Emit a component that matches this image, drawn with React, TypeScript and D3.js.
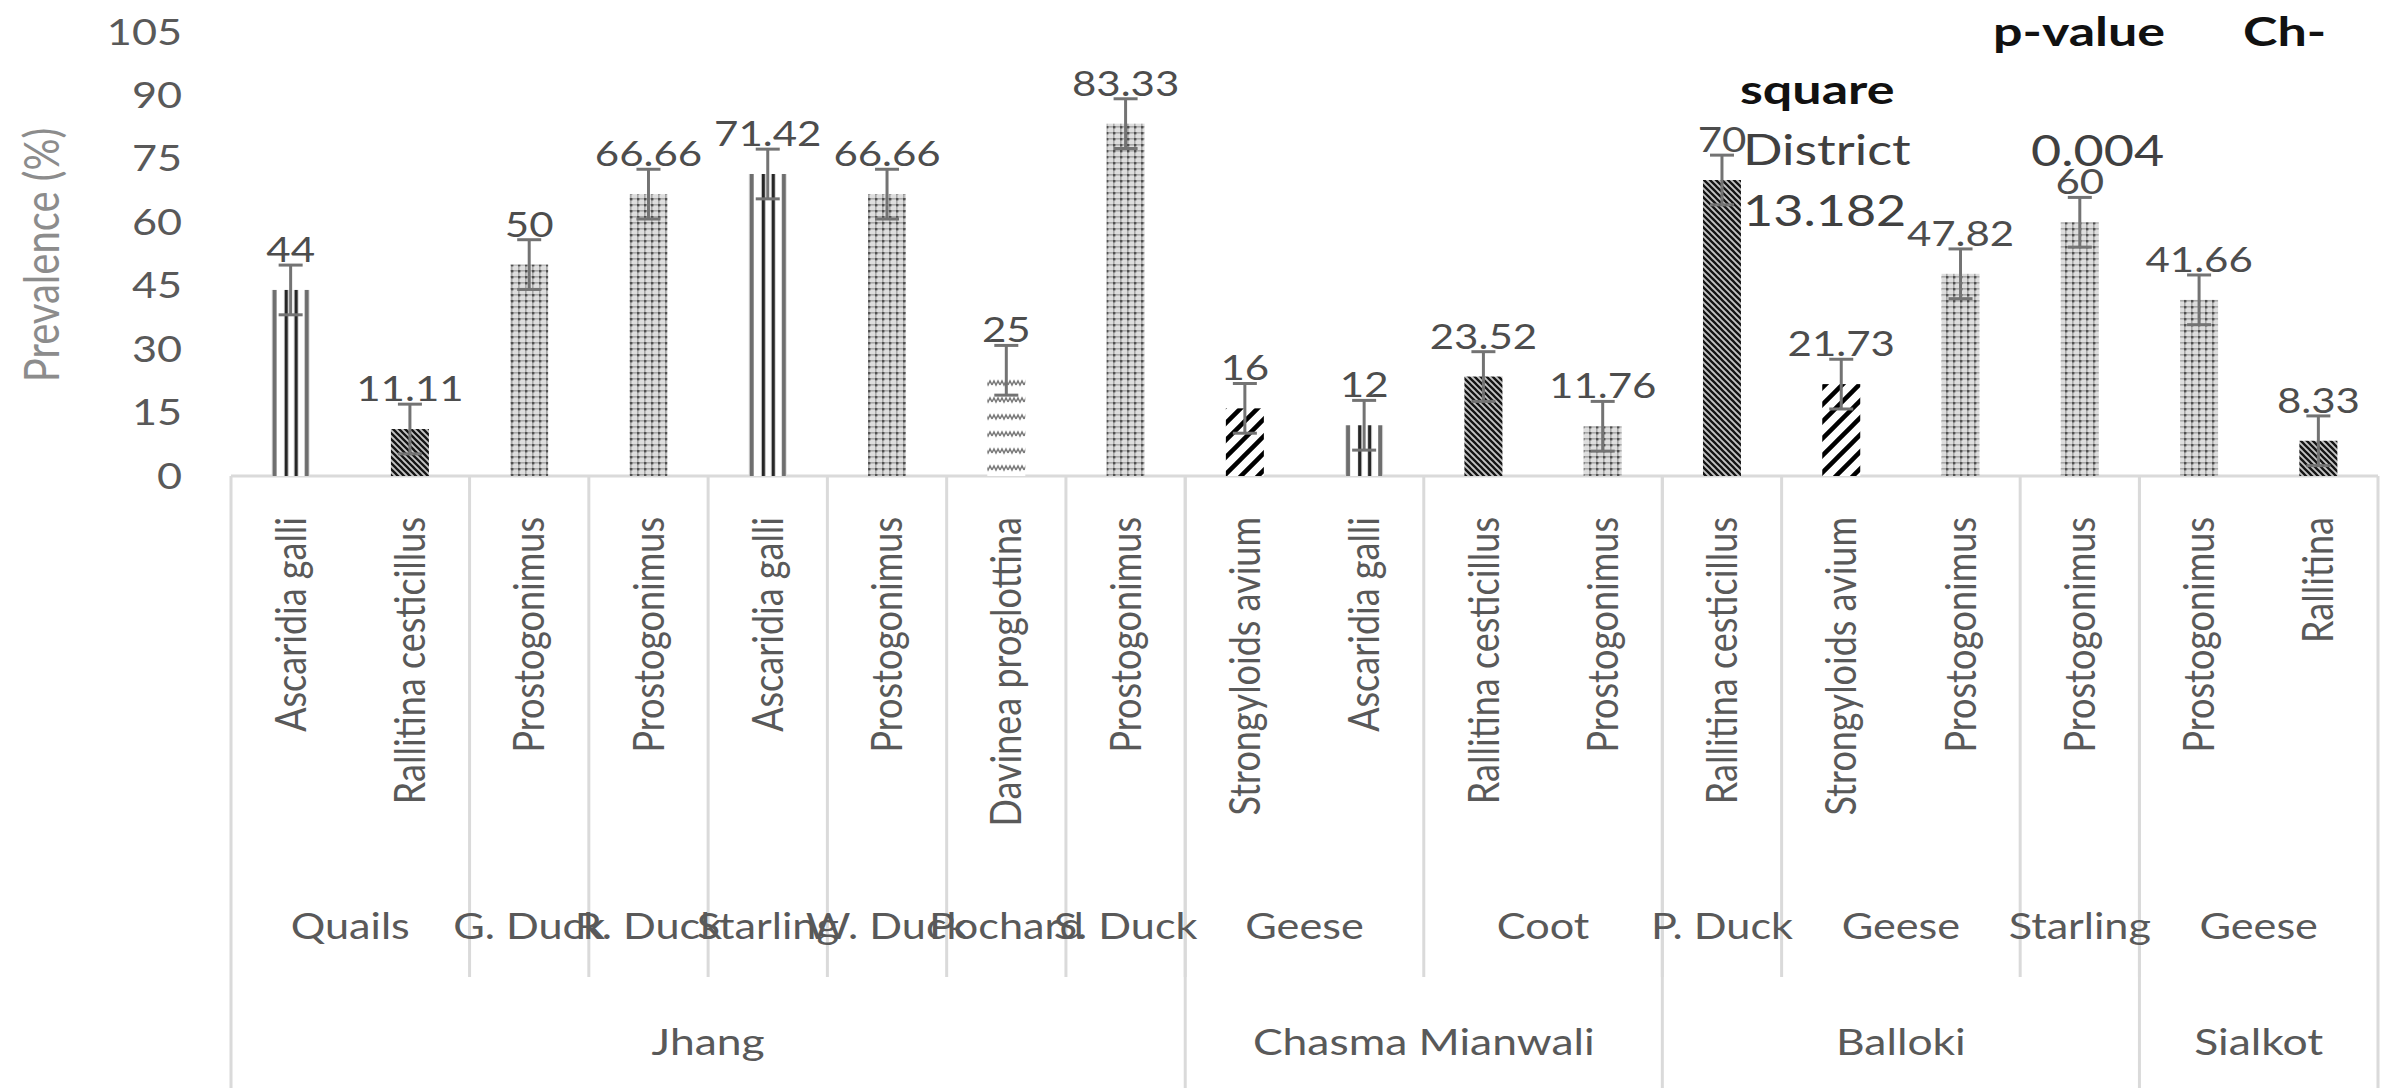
import React from "react";
import * as d3 from "d3";

// Prevalence of helminth species by host bird and district
const districts = [
  "Jhang", "Jhang", "Jhang", "Jhang", "Jhang", "Jhang", "Jhang", "Jhang",
  "Chasma Mianwali", "Chasma Mianwali", "Chasma Mianwali", "Chasma Mianwali",
  "Balloki", "Balloki", "Balloki", "Balloki",
  "Sialkot", "Sialkot",
];
const hosts = [
  "Quails", "Quails", "G. Duck", "R. Duck", "Starling", "W. Duck", "Pochard", "S. Duck",
  "Geese", "Geese", "Coot", "Coot",
  "P. Duck", "Geese", "Geese", "Starling",
  "Geese", "Geese",
];
const species = [
  "Ascaridia galli", "Rallitina cesticillus", "Prostogonimus", "Prostogonimus",
  "Ascaridia galli", "Prostogonimus", "Davinea proglottina", "Prostogonimus",
  "Strongyloids avium", "Ascaridia galli", "Rallitina cesticillus", "Prostogonimus",
  "Rallitina cesticillus", "Strongyloids avium", "Prostogonimus", "Prostogonimus",
  "Prostogonimus", "Rallitina",
];
const prevalence = [
  44, 11.11, 50, 66.66, 71.42, 66.66, 25, 83.33,
  16, 12, 23.52, 11.76,
  70, 21.73, 47.82, 60,
  41.66, 8.33,
];
// standard error bars (same for every bar)
const standardError = [
  5.88, 5.88, 5.88, 5.88, 5.88, 5.88, 5.88, 5.88, 5.88,
  5.88, 5.88, 5.88, 5.88, 5.88, 5.88, 5.88, 5.88, 5.88,
];
const yTicks = [0, 15, 30, 45, 60, 75, 90, 105];

// fill pattern per parasite
const patternOf: Record<string, string> = {
  "Ascaridia galli": "vlines",
  "Rallitina cesticillus": "darkDiag",
  Rallitina: "darkDiag",
  Prostogonimus: "dotGrid",
  "Davinea proglottina": "wave",
  "Strongyloids avium": "wideDiag",
};

const FONT = "Lato, 'Open Sans', sans-serif";
const W = 2392;
const H = 1088;
const LEFT = 231;
const RIGHT = 2378;
const AXIS_Y = 476;
const TOP_Y = 32;
const SPECIES_END_Y = 517;
const HOST_Y = 926;
const HOST_LINE_END = 977;
const DISTRICT_Y = 1042;
const SX = 1.2;

function runs(keys: string[]) {
  const out: { key: string; start: number; end: number }[] = [];
  keys.forEach((k, i) => {
    const last = out[out.length - 1];
    if (last && last.key === k) last.end = i;
    else out.push({ key: k, start: i, end: i });
  });
  return out;
}

export default function App() {
  const idx = prevalence.map((_, i) => i);
  const x = d3.scaleBand<number>().domain(idx).range([LEFT, RIGHT]).paddingInner(0).paddingOuter(0);
  const y = d3.scaleLinear().domain([0, 105]).range([AXIS_Y, TOP_Y]);
  const bw = x.bandwidth();
  const barW = 38;
  const cx = (i: number) => (x(i) as number) + bw / 2;

  const hostRuns = runs(hosts.map((h, i) => districts[i] + "|" + h));
  const districtRuns = runs(districts);
  const gridColor = "#dadada";
  const labelColor = "#595959";

  return (
    <svg
      width={W}
      height={H}
      viewBox={`0 0 ${W} ${H}`}
      style={{ position: "absolute", left: 0, top: 0, background: "#fff", display: "block" }}
      fontFamily={FONT}
    >
      <defs>
        <pattern id="vlines" patternUnits="objectBoundingBox" patternContentUnits="objectBoundingBox" width="1" height="1">
          <rect x="0" y="0" width="1" height="1" fill="#fff" />
          <rect x="0.02" y="0" width="0.11" height="1" fill="#6e6e6e" />
          <rect x="0.34" y="0" width="0.09" height="1" fill="#262626" />
          <rect x="0.60" y="0" width="0.09" height="1" fill="#262626" />
          <rect x="0.87" y="0" width="0.11" height="1" fill="#6e6e6e" />
        </pattern>
        <pattern id="darkDiag" patternUnits="userSpaceOnUse" width="6" height="6">
          <rect width="6" height="6" fill="#c4c4c4" />
          <path d="M-1.5,-1.5 L7.5,7.5 M-1.5,4.5 L1.5,7.5 M4.5,-1.5 L7.5,1.5" stroke="#141414" strokeWidth="2.3" />
        </pattern>
        <pattern id="dotGrid" patternUnits="userSpaceOnUse" width="7" height="6">
          <rect width="7" height="6" fill="#dedede" />
          <rect x="0" y="0" width="1.6" height="6" fill="#a8a8a8" />
          <rect x="0" y="0" width="7" height="1.6" fill="#a8a8a8" />
          <rect x="0" y="0" width="2.4" height="2.4" fill="#505050" />
        </pattern>
        <pattern id="wave" patternUnits="userSpaceOnUse" width="8" height="17">
          <rect width="8" height="17" fill="#fff" />
          <path d="M0,11 L2,7 L4,11 L6,7 L8,11" stroke="#7a7a7a" strokeWidth="1.5" fill="none" />
        </pattern>
        <pattern id="wideDiag" patternUnits="userSpaceOnUse" width="17" height="17">
          <rect width="17" height="17" fill="#fff" />
          <path d="M-5,5 L5,-5 M0,17 L17,0 M12,22 L22,12" stroke="#000" strokeWidth="4.5" />
        </pattern>
      </defs>

      {/* y axis title */}
      <text
        transform={`translate(42,255) scale(${SX},1) rotate(-90)`}
        textAnchor="middle"
        dy="0.35em"
        fontSize={40}
        fill="#8c8c8c"
      >
        Prevalence (%)
      </text>

      {/* y tick labels */}
      {yTicks.map((t) => (
        <text
          key={t}
          transform={`translate(182,${y(t)}) scale(${SX},1)`}
          textAnchor="end"
          dy="0.35em"
          fontSize={36}
          fill={labelColor}
        >
          {t}
        </text>
      ))}

      {/* category table lines */}
      <line x1={LEFT} x2={RIGHT} y1={AXIS_Y} y2={AXIS_Y} stroke={gridColor} strokeWidth={3} />
      {hostRuns.slice(1).map((r) => (
        <line key={"h" + r.start} x1={x(r.start)} x2={x(r.start)} y1={AXIS_Y} y2={HOST_LINE_END} stroke={gridColor} strokeWidth={3} />
      ))}
      {districtRuns.map((r) => (
        <line key={"d" + r.start} x1={x(r.start)} x2={x(r.start)} y1={AXIS_Y} y2={H} stroke={gridColor} strokeWidth={3} />
      ))}
      <line x1={RIGHT} x2={RIGHT} y1={AXIS_Y} y2={H} stroke={gridColor} strokeWidth={3} />

      {/* bars */}
      {prevalence.map((v, i) => (
        <rect
          key={"b" + i}
          x={cx(i) - barW / 2}
          y={y(v)}
          width={barW}
          height={y(0) - y(v)}
          fill={`url(#${patternOf[species[i]]})`}
        />
      ))}

      {/* error bars */}
      {prevalence.map((v, i) => {
        const e = standardError[i];
        const c = cx(i);
        const t = y(v + e);
        const b = y(v - e);
        return (
          <g key={"e" + i} stroke="#737373" strokeWidth={3}>
            <line x1={c} x2={c} y1={t} y2={b} />
            <line x1={c - 12} x2={c + 12} y1={t} y2={t} />
            <line x1={c - 12} x2={c + 12} y1={b} y2={b} />
          </g>
        );
      })}

      {/* value labels */}
      {prevalence.map((v, i) => (
        <text
          key={"v" + i}
          transform={`translate(${cx(i)},${y(v) - 28}) scale(${SX},1)`}
          textAnchor="middle"
          fontSize={35}
          fill="#4d4d4d"
        >
          {String(v)}
        </text>
      ))}

      {/* parasite labels */}
      {species.map((s, i) => (
        <text
          key={"s" + i}
          transform={`translate(${cx(i)},${SPECIES_END_Y}) scale(${SX},1) rotate(-90)`}
          textAnchor="end"
          dy="0.35em"
          fontSize={36}
          fill={labelColor}
        >
          {s}
        </text>
      ))}

      {/* host labels */}
      {hostRuns.map((r) => {
        const mid = ((x(r.start) as number) + (x(r.end) as number) + bw) / 2;
        return (
          <text
            key={"hl" + r.start}
            transform={`translate(${mid},${HOST_Y}) scale(${SX},1)`}
            textAnchor="middle"
            dy="0.35em"
            fontSize={36}
            fill={labelColor}
          >
            {hosts[r.start]}
          </text>
        );
      })}

      {/* district labels */}
      {districtRuns.map((r) => {
        const mid = ((x(r.start) as number) + (x(r.end) as number) + bw) / 2;
        return (
          <text
            key={"dl" + r.start}
            transform={`translate(${mid},${DISTRICT_Y}) scale(${SX},1)`}
            textAnchor="middle"
            dy="0.35em"
            fontSize={37}
            fill={labelColor}
          >
            {r.key}
          </text>
        );
      })}

      {/* chi-square summary */}
      <g fontWeight="bold" fill="#111" fontSize={40}>
        <text transform={`translate(1993,46) scale(1.3,1)`}>p-value</text>
        <text transform={`translate(2243,46) scale(1.3,1)`}>Ch-</text>
        <text transform={`translate(1740,104) scale(1.3,1)`}>square</text>
      </g>
      <g fill="#404040" fontSize={42}>
        <text transform={`translate(1743,165) scale(1.24,1)`}>District</text>
        <text transform={`translate(1743,226) scale(1.24,1)`}>13.182</text>
        <text transform={`translate(2031,166) scale(1.24,1)`}>0.004</text>
      </g>
    </svg>
  );
}
